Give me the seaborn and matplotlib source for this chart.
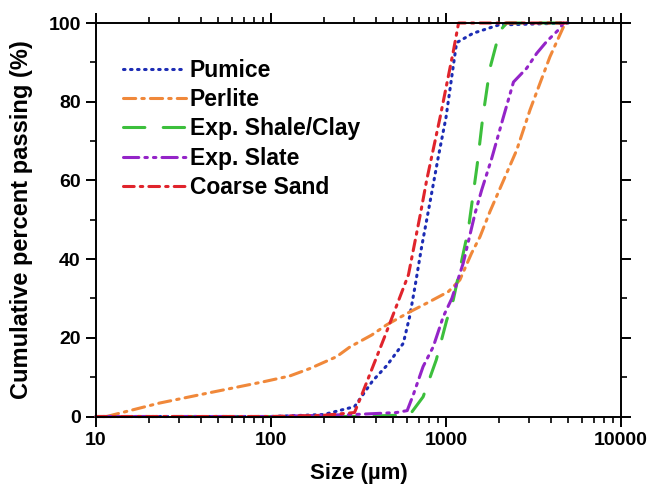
import matplotlib
matplotlib.use("Agg")
import matplotlib.pyplot as plt
import seaborn as sns
import numpy as np
import pandas as pd
from matplotlib.ticker import LogLocator, NullFormatter, MultipleLocator

# ---- data ----
pumice_x = [10, 50, 100, 200, 300, 380, 460, 570, 620, 665, 725, 795, 904, 1000, 1100, 1150, 1430, 2000, 5000]
pumice_y = [0, 0, 0, 0.5, 2.5, 9, 13, 18.6, 25.4, 33, 43, 52.5, 66, 76, 89, 95, 97.4, 99.5, 100]

perlite_x = [11.5, 23, 43, 90, 128, 167, 237, 283, 376, 458, 622, 776, 1030, 1200, 1400, 1565, 1780, 2535, 3020, 3445, 3925, 4800]
perlite_y = [0, 3.4, 5.9, 8.8, 10.3, 12.2, 15.2, 17.7, 20.7, 23.3, 26.6, 28.8, 31.7, 34.7, 41.5, 45.7, 52, 67.7, 77.9, 84.7, 91.4, 100]

shale_x = [10, 100, 300, 620, 740, 880, 1010, 1100, 1340, 1507, 1622, 1783, 2030, 2220, 5000]
shale_y = [0, 0, 0, 0.4, 5, 14.4, 24.5, 29.6, 47.4, 63.9, 76, 88.5, 98, 100, 100]

slate_x = [10, 100, 300, 520, 600, 650, 740, 845, 965, 1080, 1255, 1465, 1600, 1825, 2125, 2430, 2890, 3300, 3760, 4380, 4700]
slate_y = [0, 0, 0.5, 1, 1.5, 5.5, 12.7, 17.7, 25.4, 30, 39, 51.6, 57.6, 65.6, 76, 85, 88.5, 92.3, 95.3, 98.2, 100]

sand_x = [10, 100, 200, 300, 330, 450, 610, 715, 775, 925, 1100, 1180, 5000]
sand_y = [0, 0, 0.3, 1, 5.5, 20.7, 36, 51.6, 60, 76, 92.7, 100, 100]

labels = ["Pumice", "Perlite", "Exp. Shale/Clay", "Exp. Slate", "Coarse Sand"]
xticks = [10, 100, 1000, 10000]
yticks = [0, 20, 40, 60, 80, 100]

series = [
    (labels[0], pumice_x, pumice_y, "#1c2cb4", (0, (0.5, 1.8))),
    (labels[1], perlite_x, perlite_y, "#f0883a", (0, (4, 2, 0.8, 2))),
    (labels[2], shale_x, shale_y, "#3cbf3c", (0, (7, 6))),
    (labels[3], slate_x, slate_y, "#9424c8", (0, (5, 2, 0.8, 2, 0.8, 2))),
    (labels[4], sand_x, sand_y, "#e0242c", (0, (3.5, 2, 0.8, 2))),
]

sns.set_style("ticks")
plt.rcParams["font.family"] = ["Liberation Sans", "DejaVu Sans"]
plt.rcParams["font.weight"] = "bold"
plt.rcParams["text.color"] = "black"
plt.rcParams["axes.labelcolor"] = "black"
plt.rcParams["xtick.color"] = "black"
plt.rcParams["ytick.color"] = "black"

fig = plt.figure(figsize=(6.52, 4.88), dpi=100)
ax = fig.add_axes([96 / 652, 1 - 416.5 / 488, 525 / 652, 393.5 / 488])

for name, xs, ys, col, ls in series:
    df = pd.DataFrame({"x": xs, "y": ys})
    sns.lineplot(data=df, x="x", y="y", ax=ax, color=col, linestyle=ls,
                 linewidth=2.2, label=name, estimator=None, sort=False,
                 clip_on=False, dash_capstyle="round")

ax.set_xscale("log")
ax.set_xlim(10, 10000)
ax.set_ylim(0, 100)
ax.set_xticks(xticks)
ax.set_xticklabels([str(t) for t in xticks])
ax.xaxis.set_minor_locator(LogLocator(base=10, subs=np.arange(2, 10)))
ax.xaxis.set_minor_formatter(NullFormatter())
ax.set_yticks(yticks)
ax.set_yticklabels([str(t) for t in yticks])
ax.yaxis.set_minor_locator(MultipleLocator(10))

for s in ax.spines.values():
    s.set_visible(True)
    s.set_linewidth(1.4)
    s.set_color("black")

ax.tick_params(which="major", direction="out", length=7, width=1.4,
               top=True, right=True, labelsize=14, colors="black", pad=4)
ax.tick_params(which="minor", direction="out", length=4, width=1.2,
               top=True, right=True, colors="black")
for lab in ax.get_xticklabels() + ax.get_yticklabels():
    lab.set_fontweight("bold")

ax.set_xlabel("Size (µm)", fontsize=16, fontweight="bold", labelpad=10, color="black")
ax.set_ylabel("Cumulative percent passing (%)", fontsize=17, fontweight="bold", labelpad=11, color="black")

leg = ax.legend(loc="upper left", bbox_to_anchor=(0.013, 0.962), frameon=False,
                handlelength=2.75, handletextpad=0.15, labelspacing=0.28,
                prop={"weight": "bold", "size": 16.5}, labelcolor="black")

fig.savefig("out.png", dpi=100)
